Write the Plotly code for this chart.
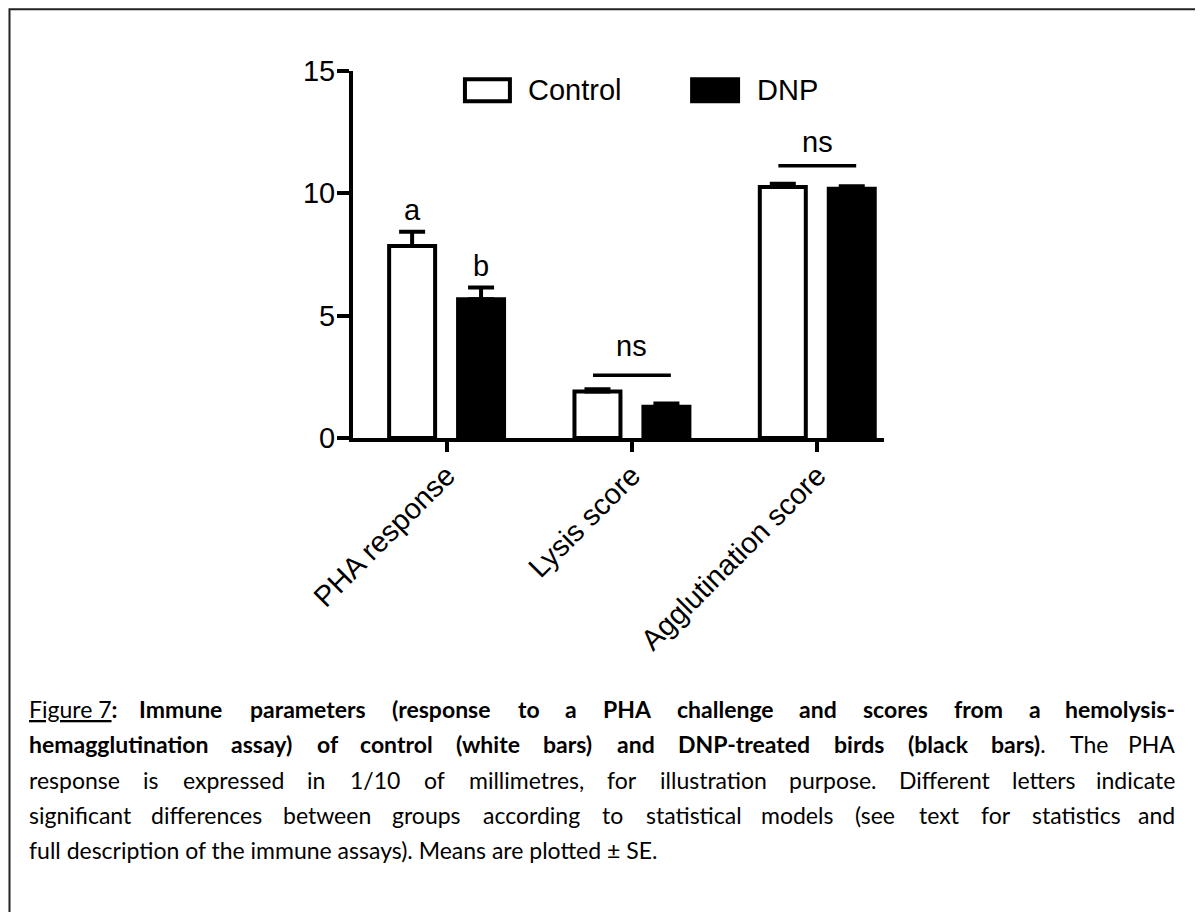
import plotly.graph_objects as go

# ---------------- data ----------------
categories = ["PHA response", "Lysis score", "Agglutination score"]
series_names = ["Control", "DNP"]
control_mean = [7.85, 1.90, 10.26]
control_se = [0.58, 0.09, 0.13]
dnp_mean = [5.67, 1.28, 10.19]
dnp_se = [0.48, 0.13, 0.10]
y_tick_vals = [0, 5, 10, 15]

# significance marks
letter_labels = [("a", "b")]          # group 0: different letters
letter_heights = [(8.6, 6.3)]
ns_groups = [1, 2]
ns_line_heights = [2.56, 11.13]
ns_text_heights = [3.04, 11.36]

caption_lines = [
    [("<u>Figure 7</u><b>:</b>", "Figure 7:", False), ("Immune", None, True), ("parameters", None, True),
     ("(response", None, True), ("to", None, True), ("a", None, True), ("PHA", None, True),
     ("challenge", None, True), ("and", None, True), ("scores", None, True), ("from", None, True),
     ("a", None, True), ("hemolysis-", None, True)],
    [("hemagglutination", None, True), ("assay)", None, True), ("of", None, True), ("control", None, True),
     ("(white", None, True), ("bars)", None, True), ("and", None, True), ("DNP-treated", None, True),
     ("birds", None, True), ("(black", None, True), ("<b>bars)</b>.", "bars).", True),
     ("The", None, False), ("PHA", None, False)],
    "response is expressed in 1/10 of millimetres, for illustration purpose. Different letters indicate",
    "significant differences between groups according to statistical models (see text for statistics and",
    "full description of the immune assays). Means are plotted \u00b1 SE.",
]
justified = [True, True, True, True, False]

# ---------------- layout geometry (screen pixels) ----------------
BODY = 8                      # page body margin in the html page
W, H = 1203 - BODY, 912 - BODY
PL, PR, PT, PB = 352.7, 884.0, 70.8, 438.3   # plot area in screen pixels


def fx(px):
    return (px - PL) / (PR - PL)


def fy(py):
    return (PB - py) / (PB - PT)


FONT = "Liberation Sans, Arial, Helvetica, sans-serif"
CAP_FONT = "Lato, Calibri, sans-serif"
FS = 29

fig = go.Figure()
fig.add_trace(go.Bar(
    x=categories, y=control_mean, name=series_names[0],
    marker=dict(color="white", line=dict(color="black", width=4)),
    error_y=dict(type="data", symmetric=False, array=control_se, arrayminus=[0] * len(control_se),
                 color="black", thickness=4, width=13),
))
fig.add_trace(go.Bar(
    x=categories, y=dnp_mean, name=series_names[1],
    marker=dict(color="black", line=dict(color="black", width=4)),
    error_y=dict(type="data", symmetric=False, array=dnp_se, arrayminus=[0] * len(dnp_se),
                 color="black", thickness=4, width=13),
))

annotations = []
shapes = []

# letters above PHA bars
OFF = 0.186
for gi, (labs, hts) in enumerate(zip(letter_labels, letter_heights)):
    for lab, ht, off in zip(labs, hts, (-OFF, OFF)):
        annotations.append(dict(x=gi + off, y=ht, xref="x", yref="y", text=lab, showarrow=False,
                                yanchor="bottom", xanchor="center",
                                font=dict(family=FONT, size=FS, color="black")))

# ns brackets
for g, ly, ty in zip(ns_groups, ns_line_heights, ns_text_heights):
    shapes.append(dict(type="line", xref="x", yref="y", x0=g - 0.21, x1=g + 0.21, y0=ly, y1=ly,
                       line=dict(color="black", width=3.5)))
    annotations.append(dict(x=g, y=ty, xref="x", yref="y", text="ns", showarrow=False,
                            yanchor="bottom", xanchor="center",
                            font=dict(family=FONT, size=FS, color="black")))

# custom legend
shapes.append(dict(type="rect", xref="paper", yref="paper", x0=fx(464.7), x1=fx(509.7),
                   y0=fy(101), y1=fy(79), fillcolor="white", line=dict(color="black", width=4)))
shapes.append(dict(type="rect", xref="paper", yref="paper", x0=fx(690), x1=fx(740),
                   y0=fy(103), y1=fy(77), fillcolor="black", line=dict(color="black", width=0)))
annotations.append(dict(x=fx(526), y=fy(90), xref="paper", yref="paper", text=series_names[0],
                        showarrow=False, xanchor="left", yanchor="middle",
                        font=dict(family=FONT, size=FS, color="black")))
annotations.append(dict(x=fx(755), y=fy(90), xref="paper", yref="paper", text=series_names[1],
                        showarrow=False, xanchor="left", yanchor="middle",
                        font=dict(family=FONT, size=FS, color="black")))

# frame
shapes.append(dict(type="path", xref="paper", yref="paper",
                   path=f"M {fx(9)} {fy(930)} L {fx(9)} {fy(9)} L {fx(1230)} {fy(9)}",
                   line=dict(color="#222", width=2)))

# ---------------- caption (justified) ----------------
LATO = {
    ' ': .193, 'a': .49, 'b': .55, 'c': .46, 'd': .55, 'e': .51, 'f': .31, 'g': .50, 'h': .55,
    'i': .23, 'j': .23, 'k': .50, 'l': .23, 'm': .82, 'n': .55, 'o': .55, 'p': .55, 'q': .55,
    'r': .36, 's': .42, 't': .34, 'u': .55, 'v': .50, 'w': .76, 'x': .49, 'y': .50, 'z': .44,
    'A': .68, 'B': .63, 'C': .65, 'D': .73, 'E': .55, 'F': .53, 'G': .71, 'H': .75, 'I': .28,
    'L': .48, 'M': .89, 'N': .75, 'P': .59, 'R': .62, 'S': .51, 'T': .57,
    '.': .22, ',': .22, ':': .24, '(': .31, ')': .31, '/': .38, '-': .37, '\u00b1': .58,
}
CFS = 23
X_LEFT, X_RIGHT = 27.5, 1176.0
BASELINES = [718.3, 753.8, 789.3, 824.8, 860.3]


def est_w(txt, bold):
    w = sum(LATO.get(c, 0.58) for c in txt) * CFS
    return w * (1.05 if bold else 1.0)


for li, (line, just) in enumerate(zip(caption_lines, justified)):
    if isinstance(line, str):
        words = [(w, None, False) for w in line.split(" ")]
    else:
        words = line
    items = []
    for markup, plain, bold in words:
        plain = plain if plain is not None else markup
        text = markup if (plain != markup) else (f"<b>{markup}</b>" if bold else markup)
        items.append((text, est_w(plain, bold)))
    cy = fy(BASELINES[li] - 0.39 * CFS)
    if just:
        total = sum(w for _, w in items)
        gap = (X_RIGHT - X_LEFT - total) / (len(items) - 1)
        x = X_LEFT
        for k, (text, w) in enumerate(items):
            last = k == len(items) - 1
            annotations.append(dict(x=fx(X_RIGHT) if last else fx(x), y=cy, xref="paper", yref="paper",
                                    text=text, showarrow=False, xanchor="right" if last else "left",
                                    yanchor="middle", borderpad=0,
                                    font=dict(family=CAP_FONT, size=CFS, color="black")))
            x += w + gap
    else:
        annotations.append(dict(x=fx(X_LEFT), y=cy, xref="paper", yref="paper",
                                text=" ".join(t for t, _ in items), showarrow=False, xanchor="left",
                                yanchor="middle", borderpad=0,
                                font=dict(family=CAP_FONT, size=CFS, color="black")))

fig.update_layout(
    width=W, height=H, autosize=False,
    margin=dict(l=PL - BODY, r=1203 - PR, t=PT - BODY, b=912 - PB, pad=0, autoexpand=False),
    paper_bgcolor="white", plot_bgcolor="white",
    barmode="group", bargap=0.256, bargroupgap=0.333,
    showlegend=False,
    annotations=annotations, shapes=shapes,
    xaxis=dict(type="category", categoryorder="array", categoryarray=categories,
               range=[-0.505, 2.36], showline=True, linewidth=4, linecolor="black",
               ticks="outside", ticklen=10, tickwidth=4, tickcolor="black", tickangle=-45,
               ticklabelstandoff=-5,
               tickfont=dict(family=FONT, size=FS, color="black"), showgrid=False, zeroline=False),
    yaxis=dict(range=[0, 15], tickvals=y_tick_vals, showline=True, linewidth=4, linecolor="black",
               ticks="outside", ticklen=12, tickwidth=4, tickcolor="black", ticklabelstandoff=-4,
               tickfont=dict(family=FONT, size=FS, color="black"), showgrid=False, zeroline=False),
)

fig.write_html("out.html")
